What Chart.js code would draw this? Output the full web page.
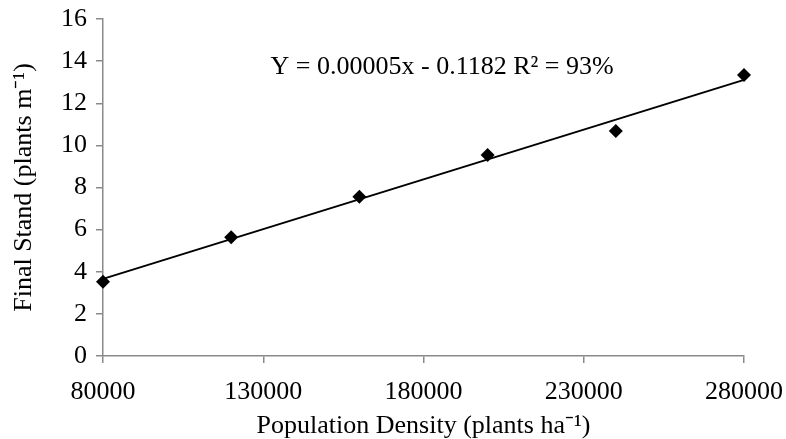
<!DOCTYPE html>
<html>
<head>
<meta charset="utf-8">
<script src="https://cdn.jsdelivr.net/npm/chart.js@4"></script>
<style>
  html, body { margin: 0; padding: 0; background: #fff; }
  #wrap { width: 786px; height: 439px; }
</style>
</head>
<body>
<div id="wrap"><canvas id="standChart" width="786" height="439"></canvas></div>
<script>
// Population density (plants ha-1)
const densities = [80000, 120000, 160000, 200000, 240000, 280000];
// Final stand (plants m-1)
const finalStand = [3.53, 5.64, 7.56, 9.54, 10.68, 13.34];
// Linear trend line ends
const trendX = [80000, 280000];
const trendY = [3.66, 13.11];
const xTicks = [80000, 130000, 180000, 230000, 280000];
const yTicks = [0, 2, 4, 6, 8, 10, 12, 14, 16];
const equation = "Y = 0.00005x - 0.1182 R\u00b2 = 93%";
const equationAt = [185800, 13.7];

const serif = "'Liberation Serif', 'Times New Roman', serif";
const axisGray = "#8a8a8a";
const fontSize = 26;

// Draw the regression equation inside the plot
const equationLabel = {
  id: "equationLabel",
  afterDraw(chart) {
    const ctx = chart.ctx;
    const x = chart.scales.x.getPixelForValue(equationAt[0]);
    const y = chart.scales.y.getPixelForValue(equationAt[1]);
    ctx.save();
    ctx.font = fontSize + "px " + serif;
    ctx.fillStyle = "#000";
    ctx.textAlign = "center";
    ctx.textBaseline = "middle";
    ctx.fillText(equation, x, y);
    ctx.restore();
  },
};

const ctx = document.getElementById("standChart").getContext("2d");

new Chart(ctx, {
  type: "scatter",
  data: {
    datasets: [
      {
        label: "Final stand",
        data: densities.map((d, i) => ({ x: d, y: finalStand[i] })),
        pointStyle: "rectRot",
        pointRadius: 7,
        pointHoverRadius: 7,
        backgroundColor: "#000",
        borderColor: "#000",
        borderWidth: 0,
        clip: false,
        order: 0,
      },
      {
        label: "Trend",
        type: "line",
        data: trendX.map((d, i) => ({ x: d, y: trendY[i] })),
        borderColor: "#000",
        borderWidth: 2,
        pointRadius: 0,
        fill: false,
        clip: false,
        order: 1,
      },
    ],
  },
  options: {
    responsive: false,
    animation: false,
    layout: { padding: { top: 19, right: 42, left: 0, bottom: 0 } },
    plugins: {
      legend: { display: false },
      tooltip: { enabled: false },
    },
    scales: {
      x: {
        type: "linear",
        min: 80000,
        max: 280000,
        afterBuildTicks: (axis) => {
          axis.ticks = xTicks.map((v) => ({ value: v }));
        },
        afterFit: (axis) => {
          axis.height = 83;
          axis.paddingLeft = 0;
          axis.paddingRight = 0;
        },
        border: { color: axisGray, width: 1.5 },
        grid: {
          drawOnChartArea: false,
          drawTicks: true,
          tickLength: 7,
          color: axisGray,
          lineWidth: 1.5,
        },
        ticks: {
          color: "#000",
          font: { family: serif, size: fontSize },
          padding: 14,
          maxRotation: 0,
          callback: (v) => String(v),
        },
        title: {
          display: true,
          text: "Population Density (plants ha\u207b\u00b9)",
          color: "#000",
          font: { family: serif, size: fontSize },
          padding: { top: 0, bottom: -3 },
        },
      },
      y: {
        min: 0,
        max: 16,
        afterBuildTicks: (axis) => {
          axis.ticks = yTicks.map((v) => ({ value: v }));
        },
        afterFit: (axis) => {
          axis.width = 103;
          axis.paddingTop = 0;
          axis.paddingBottom = 0;
        },
        border: { color: axisGray, width: 1.5 },
        grid: {
          drawOnChartArea: false,
          drawTicks: true,
          tickLength: 7,
          color: axisGray,
          lineWidth: 1.5,
        },
        ticks: {
          color: "#000",
          font: { family: serif, size: fontSize },
          padding: 9,
        },
        title: {
          display: true,
          text: "Final Stand (plants m\u207b\u00b9)",
          color: "#000",
          font: { family: serif, size: fontSize },
          padding: { top: 9, bottom: 0 },
        },
      },
    },
  },
  plugins: [equationLabel],
});
</script>
</body>
</html>
